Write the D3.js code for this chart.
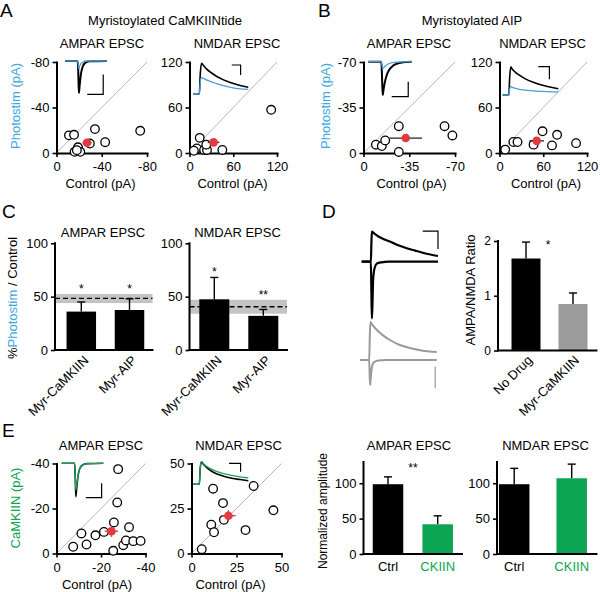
<!DOCTYPE html>
<html><head><meta charset="utf-8">
<script src="https://cdn.jsdelivr.net/npm/d3@7"></script>
<style>
body{margin:0;background:#fff;}
svg{font-family:"Liberation Sans",Arial,Helvetica,sans-serif;}
</style></head><body>
<svg id="fig" width="600" height="592"></svg>
<script>
// ---------------- DATA ----------------
// Panel A scatter (Control, Photostim) pA
const aAmpaPts = [[-11,-15.5],[-15.5,-16],[-34,-21],[-74,-19.5],[-29.5,-8.3],[-43,-9.5],[-19,-5],[-16,-1],[-21,-1],[-18,-2.5]];
const aAmpaMean = [-27,-9], aAmpaErr = [4,1.5];
const aNmdaPts = [[14,20],[10,6],[6,3],[20,4],[24,4],[23,11],[45,4],[112,57]];
const aNmdaMean = [33,14], aNmdaErr = [8,4];
// Panel B scatter
const bAmpaPts = [[-9.5,-6.4],[-14,-5.3],[-16.6,-9.7],[-27,-20.6],[-27,-0.8],[-62,-20.6],[-68,-13.5]];
const bAmpaMean = [-32.3,-11.5], bAmpaErr = [12.5,2];
const bNmdaPts = [[7.8,4.5],[19,14.5],[24.7,14.5],[46.7,11],[59,28.6],[72,10],[79,24],[105,13]];
const bNmdaMean = [51,16], bNmdaErr = [10,2];
// Panel E scatter
const eAmpaPts = [[-7.5,-3],[-11.2,-8.9],[-13.5,-4],[-17.5,-8.1],[-21.3,-9.6],[-25.8,-13.8],[-27.7,-37.5],[-27.3,-22.7],[-25.5,-1.2],[-30,-3.7],[-31.2,-5.8],[-32.6,-11.7],[-34.5,-5.5],[-37.8,-5.6]];
const eAmpaMean = [-24.7,-9.9], eAmpaErr = [3,2.5];
const eNmdaPts = [[5.7,2.4],[12,36],[11,16],[12.5,11.8],[17.5,28],[18,18.7],[30,13],[34.5,37.5],[45.5,24]];
const eNmdaMean = [20.5,21], eNmdaErr = [4,3];

// Scatter axis ticks
const ticksAAmpa = [0,-40,-80], ticksANmda = [0,60,120];
const ticksBAmpa = [0,-35,-70], ticksBNmda = [0,60,120];
const ticksEAmpa = [0,-20,-40], ticksENmda = [0,25,50];

// Panel C bars (% Photostim / Control)
const cCats = ["Myr-CaMKIIN","Myr-AIP"];
const cAmpaVals = [36,37.5], cAmpaErrTop = [45,48], cAmpaStars = ["*","*"];
const cAmpaRef = [44,48.4,52.5];   // band low, dashed mean, band high
const cNmdaVals = [47.5,32], cNmdaErrTop = [68,38], cNmdaStars = ["*","**"];
const cNmdaRef = [34,40.6,47];
const cTicks = [0,50,100];

// Panel D bars (AMPA/NMDA ratio)
const dCats = ["No Drug","Myr-CaMKIIN"];
const dVals = [1.68,0.85], dErrTop = [1.98,1.05];
const dTicks = [0,1,2];

// Panel E bars (normalized amplitude)
const eCats = ["Ctrl","CKIIN"];
const eAmpaVals = [98.6,42], eAmpaErrTop = [109,54];
const eNmdaVals = [98.6,107], eNmdaErrTop = [121,127];
const eTicks = [0,50,100];

// Inset traces [time (0-100), current (relative, peak = +/-100)]
const aAmpaBlack = [[0,0],[30,0],[31.5,-30],[33,-100],[35,-75],[38,-40],[42,-18],[48,-6],[58,-1],[100,0]];
const aAmpaBlue  = [[0,0],[30,0],[31.5,-10],[33,-24],[35,-16],[38,-8],[43,-3],[50,0],[100,0]];
const aNmdaBlack = [[0,0],[11,0],[12.5,60],[15,100],[18,94],[24,82],[32,70],[42,58],[55,46],[70,36],[85,28],[100,22]];
const aNmdaBlue  = [[0,0],[11,0],[12.5,35],[15,54],[18,51],[24,46],[32,40],[42,34],[55,27],[70,21],[85,17],[100,15]];
const bAmpaBlack = [[0,0],[30,0],[31.5,-40],[33,-100],[35,-85],[38,-62],[42,-42],[48,-25],[56,-13],[66,-6],[80,-2],[100,0]];
const bAmpaBlue  = [[0,0],[30,0],[31.5,-10],[33,-21],[36,-17],[40,-12],[46,-7],[55,-3],[68,-1],[100,0]];
const bNmdaBlack = [[0,0],[11,0],[12.5,60],[14.5,100],[17,92],[22,82],[30,70],[40,58],[55,45],[70,35],[85,28],[100,22]];
const bNmdaBlue  = [[0,0],[11,0],[12.5,20],[14.5,30],[17,27],[22,24],[30,20],[45,16],[60,14],[80,12],[100,11]];
const eAmpaBlack = [[0,0],[31,0],[32.5,-40],[34,-100],[36,-75],[39,-40],[43,-17],[50,-5],[60,-1],[100,0]];
const eAmpaGreen = [[0,0],[31,0],[32.5,-30],[34,-80],[36,-64],[39,-38],[43,-17],[50,-5],[60,-1],[100,0]];
const eNmdaBlack = [[0,0],[11,0],[12.5,70],[15,100],[18,90],[24,75],[32,60],[42,47],[55,36],[70,27],[85,21],[100,16]];
const eNmdaGreen = [[0,0],[11,0],[12.5,70],[15,100],[18,92],[24,80],[32,68],[42,57],[55,47],[70,39],[85,33],[100,29]];
const dBlackNmda = [[0,0],[12,0],[12.7,60],[13.3,100],[16,95],[22,84],[30,74],[37,67],[48,55],[59,45],[70,37],[80,30],[90,24],[100,19]];
const dBlackAmpa = [[0,0],[12,0],[12.7,-100],[13.3,-189],[14,-150],[15,-60],[17,-20],[20,-6],[26,-2],[35,0],[100,0]];
const dGrayNmda  = [[0,0],[12,0],[12.8,80],[13.6,127],[16,118],[22,100],[30,82],[40,65],[52,50],[65,40],[80,32],[100,27]];
const dGrayAmpa  = [[0,0],[12,0],[12.6,-50],[13.2,-83],[14,-60],[15.5,-25],[18,-8],[24,-2],[35,0],[100,0]];

// ---------------- DRAWING ----------------
const BLUE = "#3ea8dd", TRBLUE = "#4a9ed3", GREEN = "#0ba553", RED = "#e23a3f";
const FONT = "'Liberation Sans', Arial, Helvetica, sans-serif";
const svg = d3.select("#fig");

function label(x, y, str, o = {}) {
  const t = svg.append("text").attr("x", x).attr("y", y).text(str)
    .attr("font-size", o.size || 13).attr("text-anchor", o.anchor || "middle")
    .attr("fill", o.fill || "#000");
  if (o.rotate != null) t.attr("transform", `rotate(${o.rotate},${x},${y})`);
  return t;
}
function vlabel(cx, cy, parts, size) {
  const t = svg.append("text").attr("transform", `translate(${cx},${cy}) rotate(-90)`)
    .attr("text-anchor", "middle").attr("dominant-baseline", "central").attr("font-size", size || 13);
  parts.forEach(p => t.append("tspan").text(p[0]).attr("fill", p[1]));
}
function styleAxis(sel, size) {
  sel.attr("font-family", FONT).attr("font-size", size || 13);
  sel.select(".domain").attr("stroke", "#000").attr("stroke-width", 2).attr("stroke-linecap", "square");
  sel.selectAll(".tick line").attr("stroke", "#000").attr("stroke-width", 1.6);
  sel.selectAll(".tick text").attr("fill", "#000");
}
const fmt = d => String(d);

function drawTrace(g, data, xs, ys, color, w) {
  g.append("path").datum(data)
    .attr("d", d3.line().x(d => xs(d[0])).y(d => ys(d[1])).curve(d3.curveMonotoneX))
    .attr("fill", "none").attr("stroke", color).attr("stroke-width", w).attr("stroke-linejoin", "round");
}
function scaleBar(g, xs, ys, pathPts) {
  g.append("path").datum(pathPts)
    .attr("d", d3.line().x(d => xs(d[0])).y(d => ys(d[1])))
    .attr("fill", "none").attr("stroke", "#000").attr("stroke-width", 1.2);
}

function scatter(p) {
  const g = svg.append("g");
  const x = d3.scaleLinear().domain([0, p.max]).range(p.xr);
  const y = d3.scaleLinear().domain([0, p.max]).range(p.yr);
  g.append("line").attr("x1", x(0)).attr("y1", y(0)).attr("x2", x(p.max)).attr("y2", y(p.max))
    .attr("stroke", "#b0b0b0").attr("stroke-width", 0.9);
  // inset
  const ig = g.append("g");
  const ixs = d3.scaleLinear().domain([0, 100]).range(p.inset.xr);
  const iys = d3.scaleLinear().domain([0, p.inset.sign * 100]).range([p.inset.base, p.inset.peak]);
  drawTrace(ig, p.inset.black, ixs, iys, "#000", p.inset.bw || 1.6);
  drawTrace(ig, p.inset.col, ixs, iys, p.inset.color, 1.3);
  scaleBar(ig, ixs, iys, p.inset.bar);
  // axes
  styleAxis(g.append("g").attr("transform", `translate(0,${p.yr[0]})`)
    .call(d3.axisBottom(x).tickValues(p.ticks).tickSize(4).tickSizeOuter(0).tickPadding(5).tickFormat(fmt)));
  styleAxis(g.append("g").attr("transform", `translate(${p.xr[0]},0)`)
    .call(d3.axisLeft(y).tickValues(p.ticks).tickSize(4).tickSizeOuter(0).tickPadding(3).tickFormat(fmt)));
  // points
  g.selectAll("circle.pt").data(p.pts).join("circle").attr("class", "pt")
    .attr("cx", d => x(d[0])).attr("cy", d => y(d[1])).attr("r", 4.3)
    .attr("fill", "#fff").attr("stroke", "#000").attr("stroke-width", 1.3);
  const [mx, my] = p.mean, [ex, ey] = p.err;
  const ec = p.errColor || "#222";
  g.append("line").attr("x1", x(mx - ex)).attr("x2", x(mx + ex)).attr("y1", y(my)).attr("y2", y(my))
    .attr("stroke", ec).attr("stroke-width", 1.3);
  g.append("line").attr("x1", x(mx)).attr("x2", x(mx)).attr("y1", y(my - ey)).attr("y2", y(my + ey))
    .attr("stroke", ec).attr("stroke-width", 1.3);
  g.append("circle").attr("cx", x(mx)).attr("cy", y(my)).attr("r", 4.3).attr("fill", RED);
}

function barPanel(p) {
  const g = svg.append("g");
  const y = d3.scaleLinear().domain([0, p.ymax]).range([p.y0, p.y1]);
  if (p.ref) {
    g.append("rect").attr("x", p.xa).attr("width", p.xb - p.xa)
      .attr("y", y(p.ref[2])).attr("height", y(p.ref[0]) - y(p.ref[2])).attr("fill", "#c4c4c4");
    g.append("line").attr("x1", p.xa).attr("x2", p.xb).attr("y1", y(p.ref[1])).attr("y2", y(p.ref[1]))
      .attr("stroke", "#000").attr("stroke-width", 1.4).attr("stroke-dasharray", "5,3");
  }
  p.vals.forEach((v, i) => {
    const cx = p.cx[i];
    g.append("line").attr("x1", cx).attr("x2", cx).attr("y1", y(v)).attr("y2", y(p.err[i]))
      .attr("stroke", "#000").attr("stroke-width", 1.4);
    g.append("line").attr("x1", cx - 4).attr("x2", cx + 4).attr("y1", y(p.err[i])).attr("y2", y(p.err[i]))
      .attr("stroke", "#000").attr("stroke-width", 1.4);
    g.append("rect").attr("x", cx - p.bw / 2).attr("width", p.bw).attr("y", y(v)).attr("height", y(0) - y(v))
      .attr("fill", p.colors[i]);
  });
  styleAxis(g.append("g").attr("transform", `translate(${p.xa},0)`)
    .call(d3.axisLeft(y).tickValues(p.ticks).tickSize(4).tickSizeOuter(0).tickPadding(3).tickFormat(fmt)), p.tsize);
  g.select("g .domain").attr("d", `M0,${y(0)}V${y(p.ymax)}`);
  g.append("line").attr("x1", p.xa).attr("x2", p.xb).attr("y1", p.y0).attr("y2", p.y0)
    .attr("stroke", "#000").attr("stroke-width", 2).attr("stroke-linecap", "square");
  if (p.stars) p.stars.forEach((s, i) => {
    if (!s) return;
    const top = Math.max(p.err[i], p.ref ? p.ref[2] : 0);
    label(p.cx[i], y(top) - 1, s, { size: 12 });
  });
  return y;
}

// ---- Panel letters & headers
label(0, 17, "A", { size: 19, anchor: "start" });
label(318, 17, "B", { size: 19, anchor: "start" });
label(2, 218, "C", { size: 19, anchor: "start" });
label(322, 218, "D", { size: 19, anchor: "start" });
label(2, 437, "E", { size: 19, anchor: "start" });
label(165, 25, "Myristoylated CaMKIINtide");
label(472, 25, "Myristoylated AIP");

// ---- Panel A
label(102, 48, "AMPAR EPSC"); label(237, 48, "NMDAR EPSC");
scatter({ max: -80, xr: [56.5, 147], yr: [153, 62], ticks: ticksAAmpa, pts: aAmpaPts, mean: aAmpaMean, err: aAmpaErr,
  inset: { xr: [65, 107], base: 61, peak: 93, sign: -1, black: aAmpaBlack, col: aAmpaBlue, color: TRBLUE, bw: 2,
    bar: [[53, -104], [91, -104], [91, -42]] } });
scatter({ max: 120, xr: [189.5, 277], yr: [153, 62], ticks: ticksANmda, pts: aNmdaPts, mean: aNmdaMean, err: aNmdaErr,
  inset: { xr: [193.3, 248.3], base: 94, peak: 63.3, sign: 1, black: aNmdaBlack, col: aNmdaBlue, color: TRBLUE,
    bar: [[70, 94.5], [86, 94.5], [86, 62]] } });
label(100.5, 188, "Control (pA)"); label(232.5, 188, "Control (pA)");
vlabel(15, 106, [["Photostim (pA)", BLUE]]);

// ---- Panel B
label(409, 48, "AMPAR EPSC"); label(542.5, 48, "NMDAR EPSC");
scatter({ max: -70, xr: [363.5, 455], yr: [153, 62], ticks: ticksBAmpa, pts: bAmpaPts, mean: bAmpaMean, err: bAmpaErr,
  inset: { xr: [368.3, 411.7], base: 61.7, peak: 95, sign: -1, black: bAmpaBlack, col: bAmpaBlue, color: TRBLUE, bw: 2,
    bar: [[54, -105], [92, -105], [92, -60]] } });
scatter({ max: 120, xr: [499.5, 587], yr: [153, 62], ticks: ticksBNmda, pts: bNmdaPts, mean: bNmdaMean, err: bNmdaErr,
  inset: { xr: [502.7, 558.3], base: 95, peak: 66.7, sign: 1, black: bNmdaBlack, col: bNmdaBlue, color: TRBLUE,
    bar: [[64, 100], [84, 100], [84, 55.5]] } });
label(411.5, 188, "Control (pA)"); label(546, 188, "Control (pA)");
vlabel(325, 106, [["Photostim (pA)", BLUE]]);

// ---- Panel C
label(103, 237, "AMPAR EPSC"); label(237.5, 237, "NMDAR EPSC");
barPanel({ ymax: 100, y0: 350, y1: 243.3, xa: 55, xb: 152.5, cx: [81.3, 129.5], bw: 29.5, vals: cAmpaVals,
  err: cAmpaErrTop, colors: ["#000", "#000"], ref: cAmpaRef, ticks: cTicks, stars: cAmpaStars });
barPanel({ ymax: 100, y0: 350, y1: 243.3, xa: 189.5, xb: 287, cx: [214.3, 263.3], bw: 30, vals: cNmdaVals,
  err: cNmdaErrTop, colors: ["#000", "#000"], ref: cNmdaRef, ticks: cTicks, stars: cNmdaStars });
[[81.3, 0], [129.5, 1], [214.3, 0], [263.3, 1]].forEach(([cx, i]) =>
  label(cx + 8, 361, cCats[i], { anchor: "end", rotate: -45 }));
vlabel(12, 298, [["%", "#000"], ["Photostim", BLUE], [" / Control", "#000"]]);

// ---- Panel D traces
{
  const g = svg.append("g");
  const xs = d3.scaleLinear().domain([0, 100]).range([361.7, 438]);
  const ysB = d3.scaleLinear().domain([0, 100]).range([261.7, 231.7]);
  drawTrace(g, dBlackAmpa, xs, ysB, "#000", 2.2);
  drawTrace(g, dBlackNmda, xs, ysB, "#000", 2.2);
  scaleBar(g, xs, ysB, [[80, 102], [100, 102], [100, 42]]);
  const xg = d3.scaleLinear().domain([0, 100]).range([360, 436.7]);
  const ysG = d3.scaleLinear().domain([0, 100]).range([360, 330]);
  drawTrace(g, dGrayAmpa, xg, ysG, "#9a9a9a", 2);
  drawTrace(g, dGrayNmda, xg, ysG, "#9a9a9a", 2);
  g.append("line").attr("x1", xg(98)).attr("x2", xg(98)).attr("y1", ysG(-22)).attr("y2", ysG(-94))
    .attr("stroke", "#9a9a9a").attr("stroke-width", 1.2);
}
// ---- Panel D bars
{
  const y = barPanel({ ymax: 2, y0: 350.5, y1: 241, xa: 498, xb: 596.5, cx: [526, 573], bw: 29, vals: dVals,
    err: dErrTop, colors: ["#000", "#9b9b9b"], ticks: dTicks, tsize: 12 });
  label(548, y(dErrTop[0]) + 7, "*", { size: 12 });
  dCats.forEach((c, i) => label([526, 573][i] + 7, 361, c, { anchor: "end", rotate: -45, size: 13 }));
  vlabel(470, 290, [["AMPA/NMDA Ratio", "#000"]], 13);
}

// ---- Panel E scatter
label(101, 450, "AMPAR EPSC"); label(238.5, 450, "NMDAR EPSC");
scatter({ max: -40, xr: [56.5, 145.5], yr: [553.5, 463.5], ticks: ticksEAmpa, pts: eAmpaPts, mean: eAmpaMean, err: eAmpaErr,
  errColor: "#c0393c",
  inset: { xr: [61.7, 103.3], base: 463.3, peak: 496.7, sign: -1, black: eAmpaBlack, col: eAmpaGreen, color: "#1aa35a",
    bar: [[58, -103], [96, -103], [96, -60]] } });
scatter({ max: 50, xr: [191.5, 281.5], yr: [553.5, 463.5], ticks: ticksENmda, pts: eNmdaPts, mean: eNmdaMean, err: eNmdaErr,
  errColor: "#c0393c",
  inset: { xr: [193.3, 248.3], base: 484.3, peak: 461.7, sign: 1, black: eNmdaBlack, col: eNmdaGreen, color: "#1aa35a",
    bar: [[65, 93], [86, 93], [86, 56]] } });
label(97, 589, "Control (pA)"); label(230.5, 589, "Control (pA)");
vlabel(15, 508, [["CaMKIIN  (pA)", GREEN]]);

// ---- Panel E bars
label(409, 450, "AMPAR EPSC"); label(545.5, 450, "NMDAR EPSC");
{
  const y = barPanel({ ymax: 130, y0: 554, y1: 462, xa: 363.5, xb: 462, cx: [388, 437.7], bw: 30.5, vals: eAmpaVals,
    err: eAmpaErrTop, colors: ["#000", GREEN], ticks: eTicks });
  label(413, y(124) + 6, "**", { size: 12 });
  barPanel({ ymax: 130, y0: 554, y1: 462, xa: 497, xb: 596.5, cx: [514.2, 571.7], bw: 30.5, vals: eNmdaVals,
    err: eNmdaErrTop, colors: ["#000", GREEN], ticks: eTicks });
  [[388, 0], [437.7, 1], [514.2, 0], [571.7, 1]].forEach(([cx, i]) =>
    label(cx, 571, eCats[i], { fill: i ? GREEN : "#000" }));
  vlabel(323, 511, [["Normalized  amplitude", "#000"]], 12);
}
</script></body></html>
